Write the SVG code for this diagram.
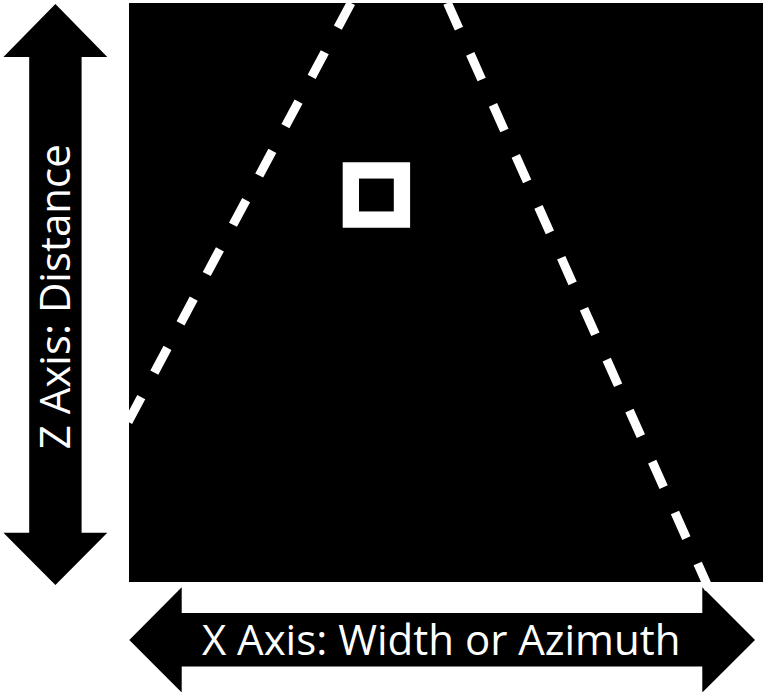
<svg xmlns="http://www.w3.org/2000/svg" width="763" height="692" viewBox="0 0 763 692">
  <style>
    .lbl { font-family: "Open Sans", "Liberation Sans", sans-serif; font-size: 42px; fill: #ffffff; text-anchor: middle; }
    .arrow { fill: #000000; }
    .fov { stroke: #ffffff; stroke-width: 9; fill: none; stroke-dasharray: 28 27.8; }
  </style>
  <rect x="0" y="0" width="763" height="692" fill="#ffffff"/>
  <g id="field">
    <rect x="129" y="3" width="634" height="579" fill="#000000"/>
  </g>
  <g id="target">
    <rect x="350.85" y="170.4" width="51.1" height="49.2" fill="none" stroke="#ffffff" stroke-width="16.3"/>
  </g>
  <g id="z-axis">
    <polygon class="arrow" points="55.4,4 107.3,57 81.6,57 81.6,532.7 107.3,532.7 55.4,585 3.4,532.7 29.2,532.7 29.2,57 3.4,57"/>
    <text class="lbl" transform="translate(70,296.7) rotate(-90)" x="0" y="0">Z Axis: Distance</text>
  </g>
  <g id="x-axis">
    <polygon class="arrow" points="129.3,640 181.7,587.3 181.7,613 702.3,613 702.3,587.3 755,640 702.3,692.5 702.3,666.5 181.7,666.5 181.7,692.5"/>
    <text class="lbl" x="441.2" y="655">X Axis: Width or Azimuth</text>
  </g>
  <g id="connectors">
    <line class="fov" x1="351" y1="3" x2="128" y2="422"/>
    <line class="fov" x1="447.5" y1="3" x2="714" y2="600"/>
  </g>
</svg>
